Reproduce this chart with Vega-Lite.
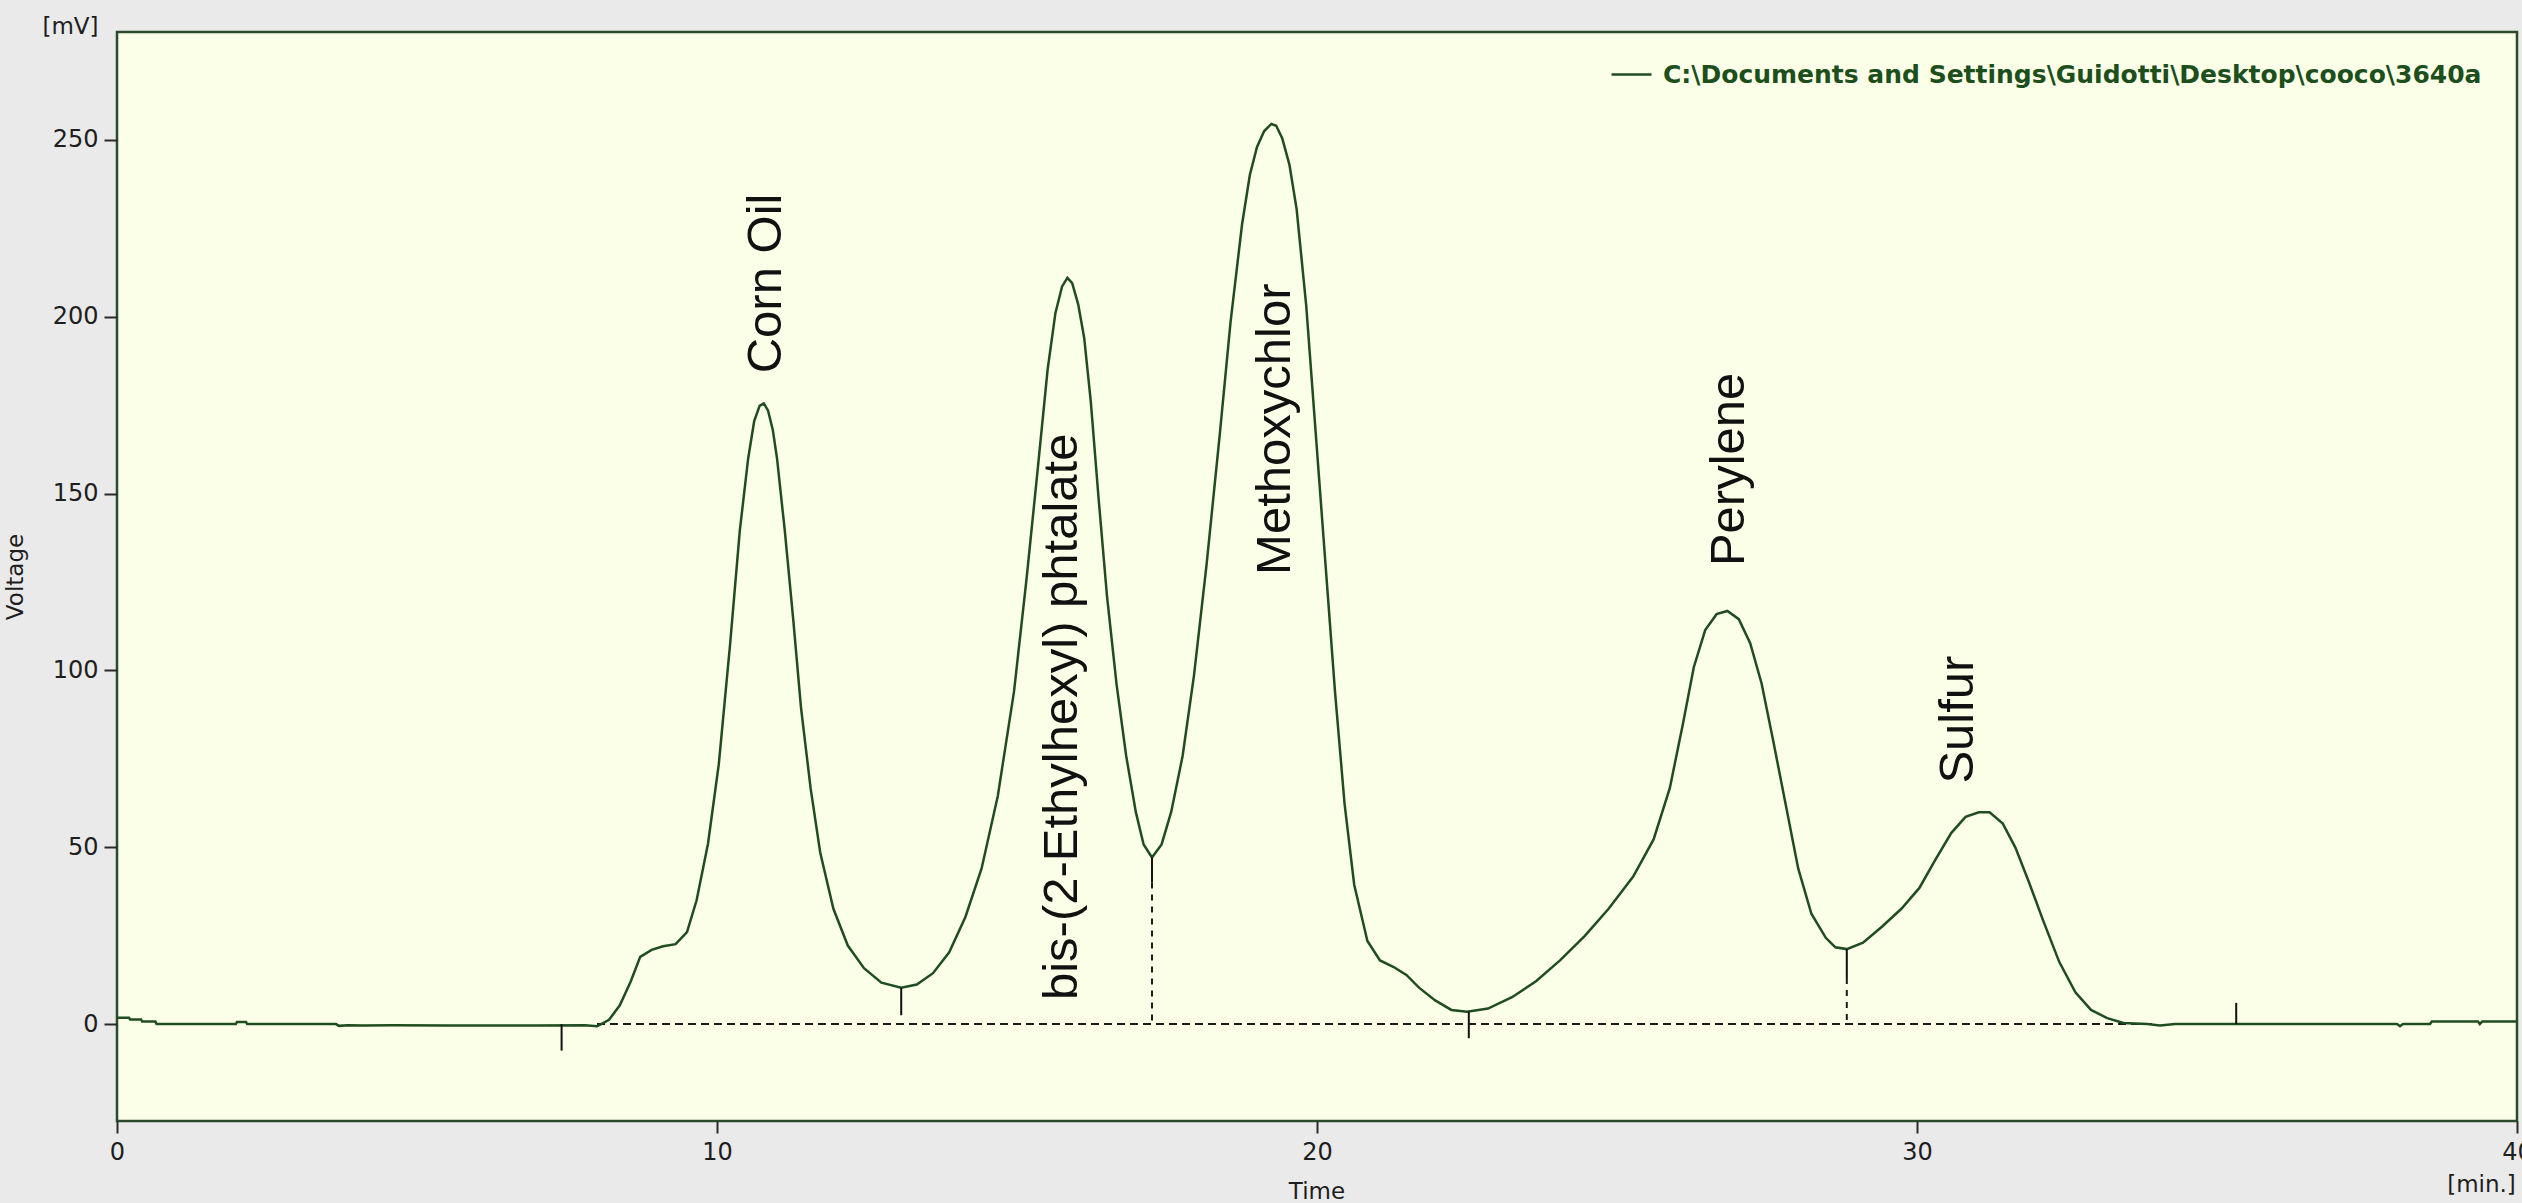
{
  "$schema": "https://vega.github.io/schema/vega-lite/v6.json",
  "width": 2400,
  "height": 1089,
  "autosize": {"type": "none"},
  "padding": {"left": 117, "top": 32, "right": 5, "bottom": 82},
  "background": "#eaeaea",
  "config": {
    "view": {"fill": "#fcffe8", "stroke": "#2b4a2b", "strokeWidth": 2.5},
    "font": "DejaVu Sans",
    "axis": {
      "grid": false,
      "domain": false,
      "labelFont": "DejaVu Sans",
      "labelFontSize": 24,
      "labelColor": "#1e1e1e",
      "labelFlush": false,
      "tickColor": "#2a2a2a",
      "tickWidth": 2,
      "titleFont": "DejaVu Sans",
      "titleFontSize": 23,
      "titleFontWeight": "normal",
      "titleColor": "#1e1e1e"
    }
  },
  "datasets": {
    "trace": [
      {"t": 0, "v": 1.8}, {"t": 0.2, "v": 1.8}, {"t": 0.22, "v": 1.3}, {"t": 0.4, "v": 1.3},
      {"t": 0.42, "v": 0.7}, {"t": 0.64, "v": 0.7}, {"t": 0.66, "v": 0}, {"t": 1.98, "v": 0},
      {"t": 2.0, "v": 0.6}, {"t": 2.15, "v": 0.6}, {"t": 2.17, "v": 0}, {"t": 3.65, "v": 0},
      {"t": 3.7, "v": -0.5}, {"t": 3.85, "v": -0.3}, {"t": 4.1, "v": -0.4}, {"t": 4.6, "v": -0.3},
      {"t": 5.5, "v": -0.4}, {"t": 7.0, "v": -0.4}, {"t": 7.8, "v": -0.3}, {"t": 8.0, "v": -0.6},
      {"t": 8.1, "v": 0.3}, {"t": 8.2, "v": 1.2}, {"t": 8.38, "v": 5.3}, {"t": 8.56, "v": 12},
      {"t": 8.72, "v": 19}, {"t": 8.91, "v": 21}, {"t": 9.1, "v": 22}, {"t": 9.31, "v": 22.6},
      {"t": 9.5, "v": 26}, {"t": 9.66, "v": 35}, {"t": 9.85, "v": 51}, {"t": 10.03, "v": 73.5},
      {"t": 10.22, "v": 107.7}, {"t": 10.38, "v": 139.5}, {"t": 10.52, "v": 160}, {"t": 10.62, "v": 170.5},
      {"t": 10.71, "v": 174.8}, {"t": 10.78, "v": 175.5}, {"t": 10.85, "v": 173.5}, {"t": 10.93, "v": 168},
      {"t": 11.0, "v": 160}, {"t": 11.13, "v": 139.5},
      {"t": 11.27, "v": 114.5}, {"t": 11.4, "v": 89.5}, {"t": 11.56, "v": 66.7}, {"t": 11.72, "v": 48.5},
      {"t": 11.94, "v": 32.6}, {"t": 12.18, "v": 22.2}, {"t": 12.45, "v": 15.8}, {"t": 12.74, "v": 11.7},
      {"t": 13.07, "v": 10.3}, {"t": 13.33, "v": 11.2}, {"t": 13.6, "v": 14.4}, {"t": 13.87, "v": 20.3},
      {"t": 14.14, "v": 30.3}, {"t": 14.41, "v": 44}, {"t": 14.68, "v": 64.5}, {"t": 14.95, "v": 94},
      {"t": 15.16, "v": 126}, {"t": 15.35, "v": 157.7}, {"t": 15.51, "v": 185}, {"t": 15.64, "v": 201},
      {"t": 15.75, "v": 208.5}, {"t": 15.84, "v": 211}, {"t": 15.92, "v": 209.5}, {"t": 16.02, "v": 203.5},
      {"t": 16.12, "v": 194}, {"t": 16.23, "v": 176},
      {"t": 16.36, "v": 148.6}, {"t": 16.5, "v": 121}, {"t": 16.66, "v": 96}, {"t": 16.82, "v": 75.8},
      {"t": 16.98, "v": 60}, {"t": 17.11, "v": 50.8}, {"t": 17.25, "v": 47.1}, {"t": 17.41, "v": 50.8},
      {"t": 17.57, "v": 60}, {"t": 17.76, "v": 75.8}, {"t": 17.95, "v": 98.6}, {"t": 18.16, "v": 130},
      {"t": 18.38, "v": 166.8}, {"t": 18.56, "v": 198.6}, {"t": 18.75, "v": 226}, {"t": 18.88, "v": 240},
      {"t": 19.0, "v": 248}, {"t": 19.12, "v": 252.5}, {"t": 19.24, "v": 254.5}, {"t": 19.32, "v": 254},
      {"t": 19.42, "v": 250.5}, {"t": 19.54, "v": 243}, {"t": 19.66, "v": 230.5},
      {"t": 19.82, "v": 203.2}, {"t": 19.98, "v": 166.8}, {"t": 20.14, "v": 130.4},
      {"t": 20.3, "v": 94}, {"t": 20.46, "v": 62.2}, {"t": 20.62, "v": 39.4}, {"t": 20.84, "v": 23.5},
      {"t": 21.05, "v": 18}, {"t": 21.27, "v": 16.2}, {"t": 21.49, "v": 13.9}, {"t": 21.7, "v": 10.3},
      {"t": 21.97, "v": 6.7}, {"t": 22.24, "v": 4}, {"t": 22.5, "v": 3.5}, {"t": 22.85, "v": 4.4},
      {"t": 23.25, "v": 7.6}, {"t": 23.65, "v": 12.1}, {"t": 24.05, "v": 18}, {"t": 24.46, "v": 24.9},
      {"t": 24.86, "v": 32.6}, {"t": 25.27, "v": 41.7}, {"t": 25.61, "v": 52.2}, {"t": 25.88, "v": 66.7},
      {"t": 26.1, "v": 85}, {"t": 26.28, "v": 100.9}, {"t": 26.47, "v": 111.4}, {"t": 26.66, "v": 115.9},
      {"t": 26.84, "v": 116.8}, {"t": 27.03, "v": 114.5}, {"t": 27.22, "v": 107.7}, {"t": 27.41, "v": 96.3},
      {"t": 27.6, "v": 80.4}, {"t": 27.81, "v": 62.2}, {"t": 28.02, "v": 44}, {"t": 28.24, "v": 31.2},
      {"t": 28.48, "v": 24.4}, {"t": 28.64, "v": 21.7}, {"t": 28.83, "v": 21.2}, {"t": 29.1, "v": 23},
      {"t": 29.42, "v": 27.6}, {"t": 29.74, "v": 32.6}, {"t": 30.04, "v": 38.5}, {"t": 30.3, "v": 46.3},
      {"t": 30.57, "v": 54}, {"t": 30.81, "v": 58.6}, {"t": 31.03, "v": 59.9}, {"t": 31.21, "v": 59.9},
      {"t": 31.43, "v": 56.7}, {"t": 31.64, "v": 49.9}, {"t": 31.86, "v": 40.4}, {"t": 32.1, "v": 29.4},
      {"t": 32.37, "v": 17.6}, {"t": 32.64, "v": 9}, {"t": 32.9, "v": 4}, {"t": 33.17, "v": 1.7},
      {"t": 33.44, "v": 0.3}, {"t": 33.84, "v": 0}, {"t": 34.05, "v": -0.4}, {"t": 34.3, "v": 0},
      {"t": 38.0, "v": 0}, {"t": 38.05, "v": -0.6}, {"t": 38.1, "v": 0}, {"t": 38.55, "v": 0},
      {"t": 38.58, "v": 0.7}, {"t": 39.35, "v": 0.7}, {"t": 39.38, "v": 0}, {"t": 39.42, "v": 0.7},
      {"t": 40, "v": 0.7}
    ],
    "baseline": [{"t": 8.0, "v": 0}, {"t": 34.0, "v": 0}],
    "peakTicks": [
      {"t": 7.41, "top": 0, "bottom": -7.5},
      {"t": 13.07, "top": 10.3, "bottom": 2.5},
      {"t": 17.25, "top": 47.1, "bottom": 40},
      {"t": 22.53, "top": 3.5, "bottom": -4},
      {"t": 28.83, "top": 21.2, "bottom": 13},
      {"t": 35.32, "top": 6, "bottom": 0}
    ],
    "dropLines": [
      {"t": 17.25, "top": 40, "bottom": 0},
      {"t": 28.83, "top": 13, "bottom": 0}
    ],
    "peaks": [
      {"name": "Corn Oil", "t": 10.82, "v": 184},
      {"name": "bis-(2-Ethylhexyl) phtalate", "t": 15.75, "v": 6.8},
      {"name": "Methoxychlor", "t": 19.3, "v": 127},
      {"name": "Perylene", "t": 26.87, "v": 129.5},
      {"name": "Sulfur", "t": 30.68, "v": 68}
    ]
  },
  "layer": [
    {
      "data": {"name": "baseline"},
      "mark": {"type": "line", "strokeDash": [8, 5], "strokeWidth": 2, "color": "#1a1a1a"},
      "encoding": {
        "x": {
          "field": "t", "type": "quantitative",
          "scale": {"domain": [0, 40], "nice": false, "zero": false},
          "axis": {
            "orient": "top", "ticks": false, "labels": false,
            "title": "[min.]", "titleX": 2364, "titleY": 1152,
            "titleAlign": "center", "titleBaseline": "middle"
          }
        },
        "y": {
          "field": "v", "type": "quantitative",
          "scale": {"domain": [-27.4, 280.5], "nice": false, "zero": false},
          "axis": {
            "orient": "right", "ticks": false, "labels": false,
            "title": "[mV]", "titleAngle": 0, "titleX": -2447, "titleY": -6,
            "titleAlign": "center", "titleBaseline": "middle"
          }
        }
      }
    },
    {
      "data": {"name": "trace"},
      "mark": {"type": "line", "strokeWidth": 2.5, "clip": true},
      "encoding": {
        "x": {
          "field": "t", "type": "quantitative",
          "scale": {"domain": [0, 40], "nice": false, "zero": false},
          "axis": {
            "orient": "bottom", "values": [0, 10, 20, 30, 40],
            "tickSize": 12, "labelPadding": 7,
            "title": "Time", "titleX": 1199.5, "titleY": 70,
            "titleAlign": "center", "titleBaseline": "middle"
          }
        },
        "y": {
          "field": "v", "type": "quantitative",
          "scale": {"domain": [-27.4, 280.5], "nice": false, "zero": false},
          "axis": {
            "orient": "left", "values": [0, 50, 100, 150, 200, 250],
            "tickSize": 13, "labelPadding": 6,
            "title": "Voltage", "titleAngle": 270, "titleX": -102, "titleY": 544.5,
            "titleAlign": "center", "titleBaseline": "middle"
          }
        },
        "color": {
          "datum": "C:\\Documents and Settings\\Guidotti\\Desktop\\cooco\\3640a",
          "type": "nominal",
          "scale": {"range": ["#1f4d1f"]},
          "legend": {
            "orient": "none", "legendX": 1493, "legendY": 21,
            "title": null, "padding": 0,
            "symbolType": "stroke", "symbolSize": 1600, "symbolStrokeWidth": 2.5,
            "labelFont": "DejaVu Sans", "labelFontWeight": "bold", "labelFontSize": 25,
            "labelColor": "#1d4f1d", "labelLimit": 2000, "labelOffset": 10
          }
        }
      }
    },
    {
      "data": {"name": "peakTicks"},
      "mark": {"type": "rule", "color": "#111111", "strokeWidth": 2},
      "encoding": {
        "x": {"field": "t", "type": "quantitative", "scale": {"domain": [0, 40], "nice": false, "zero": false}, "axis": null},
        "y": {"field": "top", "type": "quantitative", "scale": {"domain": [-27.4, 280.5], "nice": false, "zero": false}, "axis": null},
        "y2": {"field": "bottom"}
      }
    },
    {
      "data": {"name": "dropLines"},
      "mark": {"type": "rule", "color": "#1a1a1a", "strokeWidth": 2, "strokeDash": [6, 6]},
      "encoding": {
        "x": {"field": "t", "type": "quantitative", "scale": {"domain": [0, 40], "nice": false, "zero": false}, "axis": null},
        "y": {"field": "top", "type": "quantitative", "scale": {"domain": [-27.4, 280.5], "nice": false, "zero": false}, "axis": null},
        "y2": {"field": "bottom"}
      }
    },
    {
      "data": {"name": "peaks"},
      "mark": {"type": "text", "angle": 270, "align": "left", "baseline": "middle", "font": "Liberation Sans", "fontSize": 49, "color": "#111111"},
      "encoding": {
        "x": {"field": "t", "type": "quantitative", "scale": {"domain": [0, 40], "nice": false, "zero": false}, "axis": null},
        "y": {"field": "v", "type": "quantitative", "scale": {"domain": [-27.4, 280.5], "nice": false, "zero": false}, "axis": null},
        "text": {"field": "name"}
      }
    }
  ],
  "resolve": {"scale": {"x": "independent", "y": "independent"}}
}
